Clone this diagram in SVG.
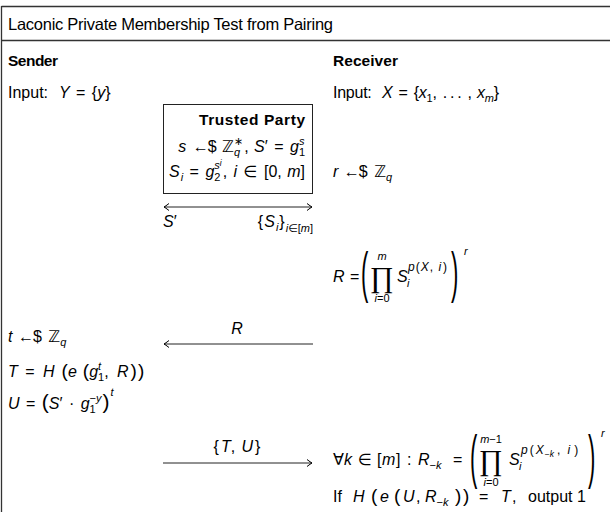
<svg xmlns="http://www.w3.org/2000/svg" width="610" height="512" viewBox="0 0 610 512">
<defs>
<style>
text{font-family:"Liberation Sans","DejaVu Sans",sans-serif;font-size:16px;fill:#000}
.i{font-style:italic}
.b{font-weight:bold;font-size:15.5px}
.s{font-size:11px}
.sp{font-size:12px}
.xs{font-size:8.5px}
.p{font-size:18px}
.p2{font-size:19px}
.h{font-size:16.5px}
.bigp{font-size:22px}
.midp{font-size:21px}
.prod{font-family:"Liberation Serif","DejaVu Serif",serif;font-size:29px}
.rule{stroke:#333;stroke-width:1.3;fill:none}
.arr{stroke:#222;stroke-width:1;fill:none}
.box{stroke:#222;stroke-width:1;fill:#fff}
</style>
<marker id="ah" viewBox="-6 -4 7 8" markerWidth="7" markerHeight="8" refX="0" refY="0" orient="auto-start-reverse" markerUnits="userSpaceOnUse">
<path d="M-5,-3.5 Q-1.5,-0.8 0,0 Q-1.5,0.8 -5,3.5" fill="none" stroke="#000" stroke-width="1"/>
</marker>
</defs>

<g id="frame">
<line class="rule" x1="1.5" y1="6.5" x2="610" y2="6.5"/>
<line class="rule" x1="1.5" y1="40.5" x2="610" y2="40.5"/>
<line class="rule" x1="1.5" y1="6" x2="1.5" y2="512"/>
</g>

<g id="title">
<text class="h" x="8" y="30" textLength="325" lengthAdjust="spacing">Laconic Private Membership Test from Pairing</text>
</g>

<g id="sender">
<text class="b" x="8" y="66" textLength="50" lengthAdjust="spacing">Sender</text>
<text x="8" y="98">Input:&#160; <tspan class="i" dx="2">Y</tspan><tspan dx="2"> = </tspan><tspan dx="2">{</tspan><tspan class="i">y</tspan>}</text>
<text x="8" y="342"><tspan class="i">t</tspan><tspan dx="1"> ←</tspan><tspan dx="-1">$</tspan> <tspan dx="2">ℤ</tspan><tspan class="s i" dy="4">q</tspan></text>
<text x="8" y="377"><tspan class="i">T</tspan><tspan dx="3"> = </tspan><tspan class="i" dx="4">H</tspan><tspan class="p2" dx="7">(</tspan><tspan class="i">e</tspan><tspan class="p2" dx="6">(</tspan><tspan class="i">g</tspan><tspan class="s" dy="4">1</tspan><tspan class="s i" dx="-6.1" dy="-11">t</tspan><tspan dx="3" dy="7">, </tspan><tspan class="i" dx="4">R</tspan><tspan class="p2" dx="2">)</tspan><tspan class="p2" dx="1">)</tspan></text>
<text x="8" y="409"><tspan class="i">U</tspan><tspan dx="2"> = </tspan><tspan class="midp" dx="2">(</tspan><tspan class="i">S</tspan>′<tspan dx="2"> · </tspan><tspan class="i" dx="2">g</tspan><tspan class="s" dy="4">1</tspan><tspan class="s" dx="-6.1" dy="-11">−<tspan class="i">y</tspan></tspan><tspan class="midp" dx="1" dy="7">)</tspan><tspan class="s i" dx="1" dy="-13">t</tspan></text>
</g>

<g id="trusted-party">
<rect class="box" x="163.5" y="104.5" width="149" height="89"/>
<text class="b" x="199" y="125" textLength="106" lengthAdjust="spacing">Trusted Party</text>
<text x="305" y="152" text-anchor="end"><tspan class="i">s</tspan><tspan dx="2"> ←</tspan><tspan dx="-1">$</tspan> <tspan dx="1">ℤ</tspan><tspan class="s i" dy="4">q</tspan><tspan class="s" dx="-6.1" dy="-11">∗</tspan><tspan dx="1" dy="7">, </tspan><tspan class="i" dx="1">S</tspan>′<tspan dx="2"> = </tspan><tspan class="i" dx="2">g</tspan><tspan class="s" dy="4">1</tspan><tspan class="s i" dx="-6.1" dy="-11">s</tspan></text>
<text x="305" y="177" text-anchor="end"><tspan class="i">S</tspan><tspan class="s i" dx="1" dy="4">i</tspan><tspan dx="2" dy="-4"> = </tspan><tspan class="i" dx="2">g</tspan><tspan class="s" dy="4">2</tspan><tspan class="s i" dx="-6.1" dy="-12">s</tspan><tspan class="xs i" dy="-3">i</tspan><tspan dx="1" dy="11">, </tspan><tspan class="i" dx="2">i</tspan><tspan dx="2"> ∈ </tspan><tspan dx="2">[0, </tspan><tspan class="i" dx="1">m</tspan>]</text>
<text x="163" y="227"><tspan class="i">S</tspan>′</text>
<text x="313" y="227" text-anchor="end">{<tspan class="i" dx="1">S</tspan><tspan class="s i" dx="1" dy="4">i</tspan><tspan dx="1" dy="-4">}</tspan><tspan class="s" dx="1" dy="5"><tspan class="i">i</tspan>∈[<tspan class="i">m</tspan>]</tspan></text>
</g>

<g id="receiver">
<text class="b" x="333" y="66" textLength="65" lengthAdjust="spacing">Receiver</text>
<text x="333" y="98" textLength="166" lengthAdjust="spacing">Input:&#160; <tspan class="i" dx="2">X</tspan><tspan dx="2"> = </tspan><tspan dx="2">{</tspan><tspan class="i">x</tspan><tspan class="s" dy="4">1</tspan><tspan dy="-4">, </tspan><tspan dx="2">.</tspan><tspan dx="3">.</tspan><tspan dx="3">.</tspan><tspan dx="2"> , </tspan><tspan class="i" dx="1">x</tspan><tspan class="s i" dy="4">m</tspan><tspan dy="-4">}</tspan></text>
<text x="333" y="177"><tspan class="i">r</tspan><tspan dx="1"> ←</tspan><tspan dx="-1">$</tspan> <tspan dx="2">ℤ</tspan><tspan class="s i" dy="4">q</tspan></text>

<text x="333" y="282"><tspan class="i">R</tspan><tspan dx="1"> =</tspan></text>
<text class="bigp" transform="translate(361,290.5) scale(1,2.5)">(</text>
<text class="prod" x="370" y="287">∏</text>
<text class="s i" x="382" y="260" text-anchor="middle">m</text>
<text class="s" x="382" y="302" text-anchor="middle"><tspan class="i">i</tspan>=0</text>
<text class="i" x="397" y="282">S</text>
<text class="s i" x="407" y="287">i</text>
<text class="sp" x="408" y="271"><tspan class="i">p</tspan><tspan dx="1">(</tspan><tspan class="i" dx="1">X</tspan><tspan dx="1">, </tspan><tspan class="i" dx="2">i</tspan><tspan dx="2">)</tspan></text>
<text class="bigp" transform="translate(451,290.5) scale(1,2.5)">)</text>
<text class="s i" x="464" y="255">r</text>

<text x="333" y="465">∀<tspan class="i" x="344">k</tspan><tspan x="358">∈</tspan><tspan x="377">[</tspan><tspan class="i" x="382">m</tspan><tspan x="396">]</tspan><tspan x="407">:</tspan><tspan class="i" x="418">R</tspan><tspan class="s" dy="4">−<tspan class="i">k</tspan></tspan><tspan x="453" dy="-4">=</tspan></text>
<text class="bigp" transform="translate(470,476.5) scale(1,2.7)">(</text>
<text class="prod" x="479" y="470">∏</text>
<text class="s" x="491" y="443" text-anchor="middle"><tspan class="i">m</tspan>−1</text>
<text class="s" x="491" y="486" text-anchor="middle"><tspan class="i">i</tspan>=0</text>
<text class="i" x="509" y="465">S</text>
<text class="s i" x="519" y="470">i</text>
<text class="sp" x="521" y="454"><tspan class="i">p</tspan><tspan dx="2">(</tspan><tspan class="i" dx="2">X</tspan><tspan class="xs" dx="1" dy="3">−<tspan class="i">k</tspan></tspan><tspan dx="3" dy="-3">, </tspan><tspan class="i" dx="4">i</tspan><tspan dx="4">)</tspan></text>
<text class="bigp" transform="translate(588,476.5) scale(1,2.7)">)</text>
<text class="s i" x="601" y="437">r</text>

<text x="333" y="502" font-size="16.5">If<tspan class="i" x="353">H</tspan><tspan class="p2" x="371">(</tspan><tspan class="i" x="380">e</tspan><tspan class="p2" x="394">(</tspan><tspan class="i" x="403">U</tspan><tspan x="416">,</tspan><tspan class="i" x="425">R</tspan><tspan class="s" dy="4">−<tspan class="i">k</tspan></tspan><tspan class="p2" x="455" dy="-4">)</tspan><tspan class="p2" x="463">)</tspan><tspan x="479">=</tspan><tspan class="i" x="501">T</tspan><tspan x="512">,</tspan><tspan x="528">output 1</tspan></text>
</g>

<g id="connectors">
<line class="arr" x1="164" y1="207" x2="312" y2="207" marker-start="url(#ah)" marker-end="url(#ah)"/>
<line class="arr" x1="313" y1="344" x2="164" y2="344" marker-end="url(#ah)"/>
<text class="i" x="237" y="334" text-anchor="middle">R</text>
<line class="arr" x1="163" y1="463" x2="312" y2="463" marker-end="url(#ah)"/>
<text x="237" y="452" text-anchor="middle">{<tspan class="i" dx="2">T</tspan>, <tspan class="i" dx="2">U</tspan><tspan dx="2">}</tspan></text>
</g>
</svg>
